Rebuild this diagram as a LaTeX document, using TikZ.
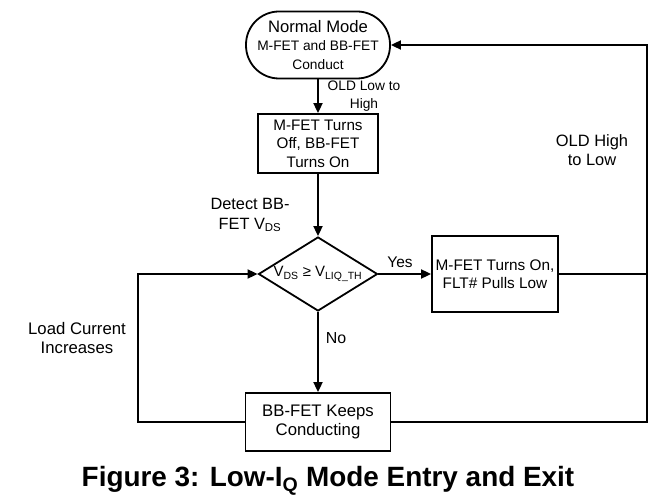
\documentclass[tikz,border=0pt]{standalone}
\usepackage{fontspec}
\setmainfont{Liberation Sans}
\usetikzlibrary{arrows.meta,shapes.geometric}

\begin{document}
\begin{tikzpicture}[x=1bp, y=-1bp, line width=1.8bp,
    box/.style={draw, rectangle, inner sep=0pt, align=center},
    decision/.style={draw, diamond, inner sep=0pt,
        minimum width=119bp, minimum height=74bp},
    arr/.style={-{Triangle[length=10bp,width=9bp]}},
    lbl/.style={align=center, inner sep=0pt}
]
    \useasboundingbox (0,0) rectangle (671,500);

    \coordinate (N) at (318,45);
    \coordinate (T) at (318,143.5);
    \coordinate (D) at (318,274);
    \coordinate (Y) at (495,274);
    \coordinate (K) at (318,422);
    \coordinate (R) at (647,45);
    \coordinate (L) at (138,274);

    \node[box, rounded corners=33bp, minimum width=144bp, minimum height=67bp,
        font=\fontsize{13.8}{18.5}\selectfont] (normal) at (N)
        {{\fontsize{16.7}{19}\selectfont Normal Mode}\\M-FET and BB-FET\\Conduct};
    \node[box, minimum width=120bp, minimum height=59bp,
        font=\fontsize{15.3}{18.5}\selectfont] (turnoff) at (T)
        {M-FET Turns\\Off, BB-FET\\Turns On};
    \node[decision] (dec) at (D) {};
    \node[lbl, font=\fontsize{15}{18}\selectfont] (cond) at (dec)
        {V\textsubscript{DS} ≥ V\textsubscript{LIQ\_TH}};
    \node[box, minimum width=126bp, minimum height=76bp,
        font=\fontsize{15.4}{18}\selectfont] (turnon) at (Y)
        {M-FET Turns On,\\FLT\# Pulls Low};
    \node[box, minimum width=145bp, minimum height=58bp,
        font=\fontsize{16.8}{20}\selectfont] (keeps) at (K)
        {BB-FET Keeps\\Conducting};

    \draw[arr] (normal) -- (turnoff);
    \draw[arr] (turnoff) -- (dec);
    \draw[arr] (dec) -- (turnon);
    \draw[arr] (dec) -- (keeps);
    \draw (turnon.east) -- (turnon.east -| R);
    \draw[arr] (keeps.east) -| (R) -- (normal.east);
    \draw[arr] (keeps.west) -| (L) -- (dec.west);

    \node[lbl, font=\fontsize{13.8}{18}\selectfont] at (364,96) {OLD Low to\\High};
    \node[lbl, font=\fontsize{16.4}{20}\selectfont] at (250,215) {Detect BB-\\FET V\textsubscript{DS}};
    \node[lbl, font=\fontsize{15.5}{18}\selectfont] at (400,262) {Yes};
    \node[lbl, font=\fontsize{16}{18}\selectfont] at (336,338) {No};
    \node[lbl, font=\fontsize{16.5}{19}\selectfont] at (592,150) {OLD High\\to Low};
    \node[lbl, font=\fontsize{16.8}{19.5}\selectfont] at (77,338) {Load Current\\Increases};

    \node[lbl, anchor=base, font=\bfseries\fontsize{28}{31}\selectfont] (caption) at (328,486)
        {Figure 3: Low-I\textsubscript{Q} Mode Entry and Exit};
\end{tikzpicture}
\end{document}
